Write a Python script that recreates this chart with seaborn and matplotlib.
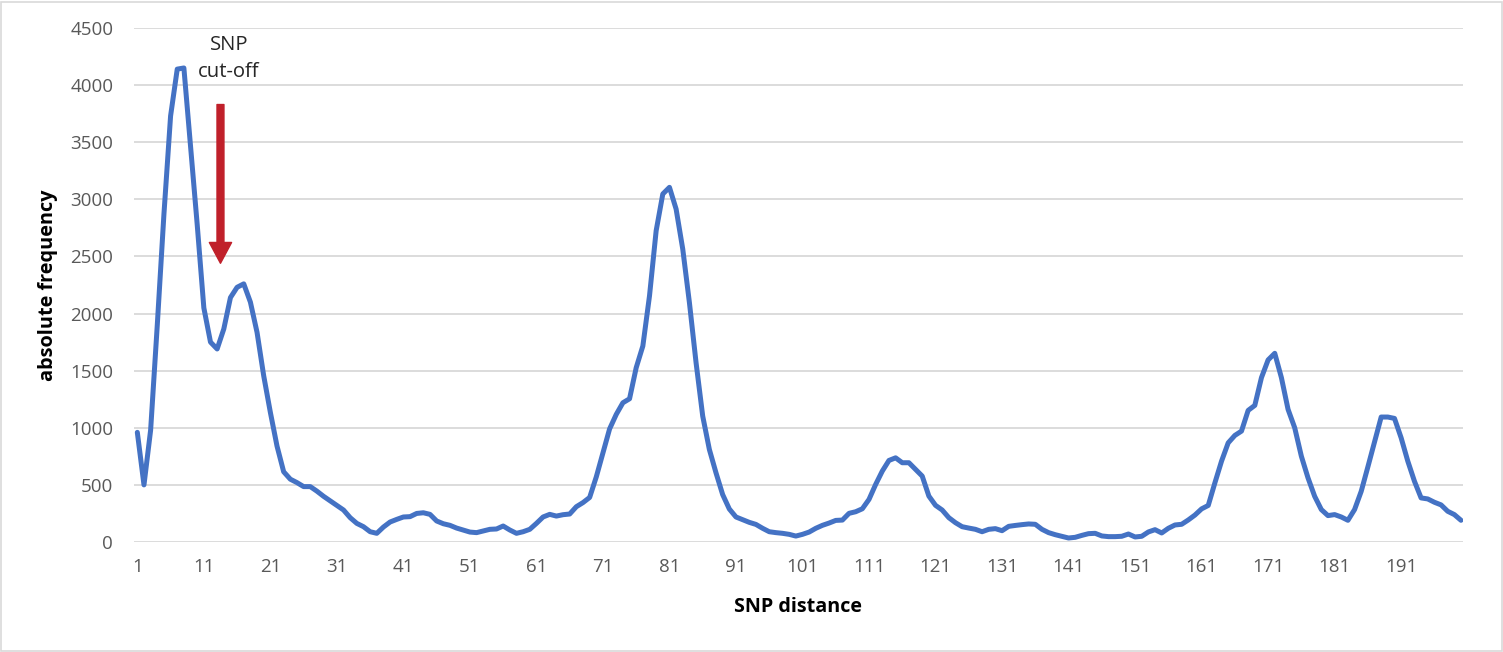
import matplotlib
matplotlib.use("Agg")
import matplotlib.pyplot as plt
import seaborn as sns
import pandas as pd
from matplotlib.patches import Rectangle

# ---- data ----
snp_distance = list(range(1, 201))
absolute_frequency = [
    960, 500, 980, 1900, 2870, 3730, 4140, 4150, 3470, 2780,
    2050, 1750, 1690, 1865, 2140, 2230, 2260, 2100, 1835, 1455,
    1135, 840, 615, 550, 520, 485, 485, 445, 400, 360,
    320, 280, 213, 163, 134, 90, 76, 131, 175, 198,
    219, 222, 250, 256, 242, 184, 160, 146, 122, 105,
    87, 82, 96, 111, 114, 140, 105, 76, 90, 111,
    163, 219, 242, 227, 239, 245, 309, 345, 390, 570,
    780, 990, 1117, 1219, 1254, 1526, 1716, 2155, 2725, 3047,
    3105, 2915, 2564, 2096, 1570, 1102, 810, 605, 415, 289,
    219, 195, 172, 154, 120, 90, 82, 76, 67, 52,
    67, 87, 120, 146, 166, 189, 192, 251, 265, 291,
    373, 504, 621, 714, 737, 694, 694, 635, 577, 402,
    321, 280, 213, 169, 134, 122, 111, 90, 111, 117,
    99, 137, 145, 152, 158, 155, 111, 82, 64, 50,
    35, 41, 58, 73, 76, 53, 47, 47, 50, 70,
    44, 50, 88, 108, 79, 120, 149, 155, 193, 236,
    290, 320, 518, 708, 868, 933, 971, 1152, 1196, 1439,
    1594, 1652, 1439, 1161, 1000, 751, 561, 400, 284, 231,
    240, 219, 190, 284, 444, 658, 877, 1094, 1094, 1082,
    912, 708, 532, 386, 377, 348, 325, 269, 240, 190,
]
x_tick_labels = [1, 11, 21, 31, 41, 51, 61, 71, 81, 91, 101, 111, 121, 131,
                 141, 151, 161, 171, 181, 191]
y_ticks = [0, 500, 1000, 1500, 2000, 2500, 3000, 3500, 4000, 4500]
cutoff_x = 13.5
cutoff_top = 3830
cutoff_tip = 2440

df = pd.DataFrame({"SNP distance": snp_distance,
                   "absolute frequency": absolute_frequency})

sns.set_theme(style="white")
plt.rcParams["font.family"] = ["Open Sans", "DejaVu Sans"]

W, H = 1503, 652
fig = plt.figure(figsize=(W / 100, H / 100), dpi=100)
ax = fig.add_axes([134 / W, 1 - 542 / H, (1463 - 134) / W, (542 - 28) / H])

ax.yaxis.grid(True, color="#D9D9D9", linewidth=1.3)
ax.xaxis.grid(False)
ax.set_axisbelow(True)

sns.lineplot(data=df, x="SNP distance", y="absolute frequency", ax=ax,
             color="#4472C4", linewidth=3.6, solid_joinstyle="round",
             solid_capstyle="round", zorder=3)

ax.set_xlim(0.5, 200.3)
ax.set_ylim(0, 4500)
ax.set_xticks(x_tick_labels)
ax.set_xticklabels([str(v) for v in x_tick_labels])
ax.set_yticks(y_ticks)
ax.set_yticklabels([str(v) for v in y_ticks])
for s in ax.spines.values():
    s.set_visible(False)
ax.tick_params(axis="both", length=0, labelsize=13.5, labelcolor="#595959")
ax.tick_params(axis="y", pad=15)
ax.tick_params(axis="x", pad=11.5)

ax.set_xlabel("SNP distance", fontsize=14.2, fontweight="bold", color="black")
ax.set_ylabel("absolute frequency", fontsize=14.3, fontweight="bold", color="black")
ax.xaxis.set_label_coords(0.5, (542 - 607) / 514)
ax.xaxis.label.set_va("center")
ax.yaxis.set_label_coords((48 - 134) / 1329, 0.5)
ax.yaxis.label.set_va("center")

# cut-off annotation
ax.annotate("", xy=(cutoff_x, cutoff_tip), xytext=(cutoff_x, cutoff_top),
            arrowprops=dict(width=5, headwidth=16, headlength=15,
                            color="#C0202A", shrink=0), zorder=4)
ax.text(14.8, 4230, "SNP\ncut-off", ha="center", va="center", fontsize=14.6,
        color="#262626", linespacing=1.45, zorder=5)

# chart border
fig.patches.append(Rectangle((1.5 / W, 1.5 / H), (W - 3) / W, (H - 3) / H,
                             transform=fig.transFigure, fill=False,
                             edgecolor="#D9D9D9", linewidth=1.2))

fig.savefig("out.png", dpi=100)
